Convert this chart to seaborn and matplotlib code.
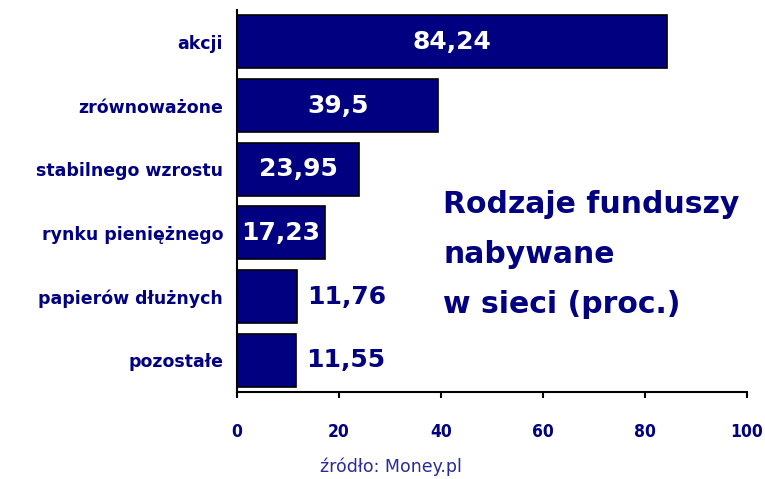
import pandas as pd
import matplotlib
matplotlib.use("Agg")
import matplotlib.pyplot as plt
import seaborn as sns

# dane z wykresu
kategorie = ["akcji", "zrównoważone", "stabilnego wzrostu", "rynku pieniężnego",
             "papierów dłużnych", "pozostałe"]
wartosci = [84.24, 39.5, 23.95, 17.23, 11.76, 11.55]
etykiety = ["84,24", "39,5", "23,95", "17,23", "11,76", "11,55"]
x_ticks = [0, 20, 40, 60, 80, 100]

granat = "#000080"

df = pd.DataFrame({"kategoria": kategorie, "wartosc": wartosci})

sns.set_style("white")
plt.rcParams["font.family"] = ["DejaVu Sans"]

fig = plt.figure(figsize=(7.65, 4.79), dpi=100)
ax = fig.add_axes([237 / 765, 1 - 392 / 479, 510 / 765, 382 / 479])

sns.barplot(data=df, x="wartosc", y="kategoria", orient="h", color=granat,
            saturation=1, edgecolor="black", linewidth=1.2, width=0.83, ax=ax)

ax.set_xlim(0, 100)
ax.set_ylim(5.5, -0.5)
ax.set_xticks(x_ticks)
ax.set_xlabel("")
ax.set_ylabel("")

for s in ["top", "right"]:
    ax.spines[s].set_visible(False)
for s in ["left", "bottom"]:
    ax.spines[s].set_color("black")
    ax.spines[s].set_linewidth(1.5)

ax.tick_params(axis="x", bottom=True, direction="out", length=4, width=1.5,
               color="black", pad=18, labelsize=12.5, labelcolor=granat)
ax.tick_params(axis="y", left=False, length=0, pad=10, labelsize=12.5,
               labelcolor=granat)
for t in ax.get_xticklabels():
    t.set_fontweight("bold")
    t.set_fontstretch("condensed")
for t in ax.get_yticklabels():
    t.set_fontweight("bold")

# etykiety wartości
for i, (v, lab) in enumerate(zip(wartosci, etykiety)):
    if v > 15:
        ax.text(v / 2, i, lab, ha="center", va="center", color="white",
                fontsize=18, fontweight="bold")
    else:
        ax.text(v + 2, i, lab, ha="left", va="center", color=granat,
                fontsize=18, fontweight="bold")

tytul = ["Rodzaje funduszy", "nabywane", "w sieci (proc.)"]
for linia, y in zip(tytul, [213, 263, 313]):
    fig.text(443 / 765, 1 - y / 479, linia, ha="left", va="baseline",
             color=granat, fontsize=21.5, fontweight="bold")

fig.text(391 / 765, 1 - 467 / 479, "źródło: Money.pl", ha="center",
         va="center", color="#2a2a9a", fontsize=12.5)

fig.savefig("out.png", dpi=100)
